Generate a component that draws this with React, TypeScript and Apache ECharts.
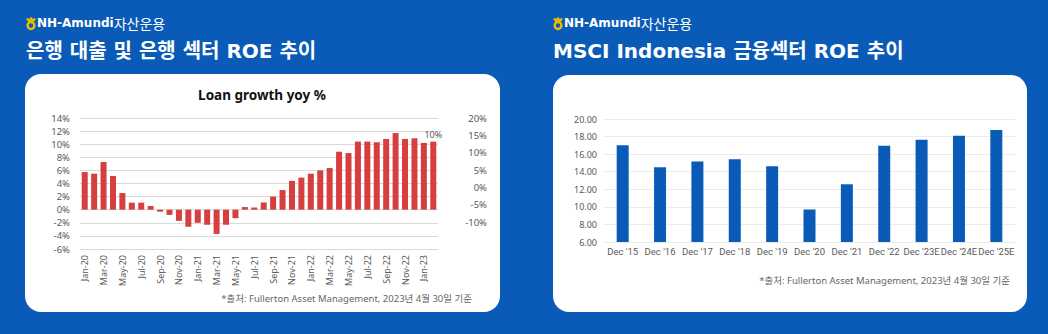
import React, { useEffect, useRef } from "react";
import * as echarts from "echarts";

const loanMonths = [
  "Jan-20","Feb-20","Mar-20","Apr-20","May-20","Jun-20","Jul-20","Aug-20","Sep-20","Oct-20","Nov-20","Dec-20",
  "Jan-21","Feb-21","Mar-21","Apr-21","May-21","Jun-21","Jul-21","Aug-21","Sep-21","Oct-21","Nov-21","Dec-21",
  "Jan-22","Feb-22","Mar-22","Apr-22","May-22","Jun-22","Jul-22","Aug-22","Sep-22","Oct-22","Nov-22","Dec-22",
  "Jan-23","Feb-23",
];
const loanGrowth = [
  5.75, 5.5, 7.28, 5.14, 2.54, 1.07, 1.07, 0.56, -0.3, -0.8, -1.7, -2.6,
  -2.0, -2.3, -3.7, -2.3, -1.3, 0.4, 0.35, 1.1, 2.0, 3.0, 4.4, 4.9,
  5.5, 6.0, 6.36, 8.85, 8.65, 10.4, 10.4, 10.3, 10.8, 11.7, 10.8, 10.9,
  10.2, 10.4,
];
const roeYears = ["Dec '15","Dec '16","Dec '17","Dec '18","Dec '19","Dec '20","Dec '21","Dec '22","Dec '23E","Dec '24E","Dec '25E"];
const roeValues = [17.0, 14.5, 15.15, 15.43, 14.62, 9.7, 12.57, 16.95, 17.64, 18.09, 18.74];

const leftTitle = "은행 대출 및 은행 섹터 ROE 추이";
const rightTitle = "MSCI Indonesia 금융섹터 ROE 추이";
const loanTitle = "Loan growth yoy %";
const sourceNote = "*출처: Fullerton Asset Management, 2023년 4월 30일 기준";

const BLUE = "#0a5bb7";
const RED = "#d63e40";
const LABEL = "#595959";
const FONT = "'Noto Sans', 'Noto Sans CJK KR', sans-serif";
const NARROW = "Roboto, 'Noto Sans CJK KR', sans-serif";
const TITLE_FONT = "'DejaVu Sans', 'Noto Sans CJK KR', sans-serif";
const GOLD = "#f0bd00";

function header(x: number) {
  return [
    {
      type: "circle",
      shape: { cx: x + 4, cy: 25.5, r: 3.4 },
      style: { fill: "none", stroke: GOLD, lineWidth: 2.4 },
      silent: true,
    },
    {
      type: "polyline",
      shape: { points: [[x, 18.5], [x + 2, 21], [x + 4, 18.5], [x + 6, 21], [x + 8, 18.5]] },
      style: { fill: "none", stroke: GOLD, lineWidth: 2.2 },
      silent: true,
    },
    {
      type: "text",
      x: x + 10,
      y: 23,
      style: {
        text: "{a|NH-Amundi}{b|자산운용}",
        verticalAlign: "middle",
        rich: {
          a: { fontFamily: TITLE_FONT, fontWeight: "bold", fontSize: 12, fill: "#ffffff", color: "#ffffff" },
          b: { fontFamily: "'Noto Sans CJK KR', sans-serif", fontWeight: "normal", fontSize: 14, fill: "#ffffff", color: "#ffffff" },
        },
      },
      silent: true,
    },
  ];
}

export default function App() {
  const ref = useRef<HTMLDivElement>(null);
  useEffect(() => {
    if (!ref.current) return;
    const chart = echarts.init(ref.current, undefined, { renderer: "svg" });
    const last = loanGrowth.length - 1;
    const option: any = {
      animation: false,
      backgroundColor: BLUE,
      graphic: [
        { type: "rect", z: -1, shape: { x: 25, y: 74, width: 475, height: 238, r: 16 }, style: { fill: "#ffffff" }, silent: true },
        { type: "rect", z: -1, shape: { x: 553, y: 75, width: 474, height: 237, r: 16 }, style: { fill: "#ffffff" }, silent: true },
        ...header(27),
        ...header(554),
        {
          type: "text", x: 26, y: 51,
          style: { text: leftTitle, fontFamily: TITLE_FONT, fontWeight: "bold", fontSize: 20, fill: "#ffffff", verticalAlign: "middle" },
          silent: true,
        },
        {
          type: "text", x: 553, y: 51,
          style: { text: rightTitle, fontFamily: TITLE_FONT, fontWeight: "bold", fontSize: 20, fill: "#ffffff", verticalAlign: "middle" },
          silent: true,
        },
        {
          type: "text", x: 262, y: 95,
          style: { text: loanTitle, fontFamily: FONT, fontWeight: "bold", fontSize: 13.5, fill: "#111111", align: "center", verticalAlign: "middle" },
          silent: true,
        },
        {
          type: "text", x: 472, y: 298,
          style: { text: sourceNote, fontFamily: FONT, fontSize: 9.5, fill: "#666666", align: "right", verticalAlign: "middle" },
          silent: true,
        },
        {
          type: "text", x: 1010, y: 280,
          style: { text: sourceNote, fontFamily: FONT, fontSize: 9.5, fill: "#666666", align: "right", verticalAlign: "middle" },
          silent: true,
        },
      ],
      grid: [
        { left: 80, top: 118, width: 358, height: 131, outerBoundsMode: "none" },
        { left: 488, top: 118, width: 1, height: 104, outerBoundsMode: "none" },
        { left: 604, top: 119, width: 411, height: 123, outerBoundsMode: "none" },
      ],
      xAxis: [
        {
          type: "category", gridIndex: 0, data: loanMonths,
          axisLine: { show: false, onZero: false }, axisTick: { show: false },
          axisLabel: { interval: 1, rotate: 90, margin: 6, fontSize: 9, color: LABEL, fontFamily: FONT },
        },
        { type: "value", gridIndex: 1, show: false, min: 0, max: 1 },
        {
          type: "category", gridIndex: 2, data: roeYears,
          axisLine: { show: false }, axisTick: { show: false },
          axisLabel: { interval: 0, margin: 5, fontSize: 9.5, color: LABEL, fontFamily: NARROW },
        },
      ],
      yAxis: [
        {
          type: "value", gridIndex: 0, min: -6, max: 14, interval: 2,
          axisLine: { show: false }, axisTick: { show: false },
          splitLine: { lineStyle: { color: "#d9d9d9", width: 1.2 } },
          axisLabel: { formatter: "{value}%", margin: 10, fontSize: 9.5, color: LABEL, fontFamily: FONT },
        },
        {
          type: "value", gridIndex: 1, min: -10, max: 20, interval: 5, position: "left",
          axisLine: { show: false }, axisTick: { show: false }, splitLine: { show: false },
          axisLabel: { formatter: "{value}%", margin: 1, fontSize: 9.5, color: LABEL, fontFamily: FONT },
        },
        {
          type: "value", gridIndex: 2, min: 6, max: 20, interval: 2,
          axisLine: { show: false }, axisTick: { show: false },
          splitLine: { lineStyle: { color: "#ebebeb", width: 1 } },
          axisLabel: { formatter: (v: number) => v.toFixed(2), margin: 7, fontSize: 9, color: LABEL, fontFamily: FONT },
        },
      ],
      series: [
        {
          type: "bar", xAxisIndex: 0, yAxisIndex: 0, data: loanGrowth, barWidth: 6,
          itemStyle: { color: RED },
          label: {
            show: true, position: "top", distance: 3, fontSize: 9, color: LABEL, fontFamily: FONT,
            formatter: (p: any) => (p.dataIndex === last ? Math.round(p.value) + "%" : ""),
          },
        },
        { type: "line", xAxisIndex: 1, yAxisIndex: 1, data: [] },
        {
          type: "bar", xAxisIndex: 2, yAxisIndex: 2, data: roeValues, barWidth: 12,
          itemStyle: { color: BLUE },
        },
      ],
    };
    chart.setOption(option);
    return () => chart.dispose();
  }, []);
  return (
    <div
      ref={ref}
      style={{ position: "fixed", left: 0, top: 0, width: 1048, height: 334 }}
    />
  );
}
